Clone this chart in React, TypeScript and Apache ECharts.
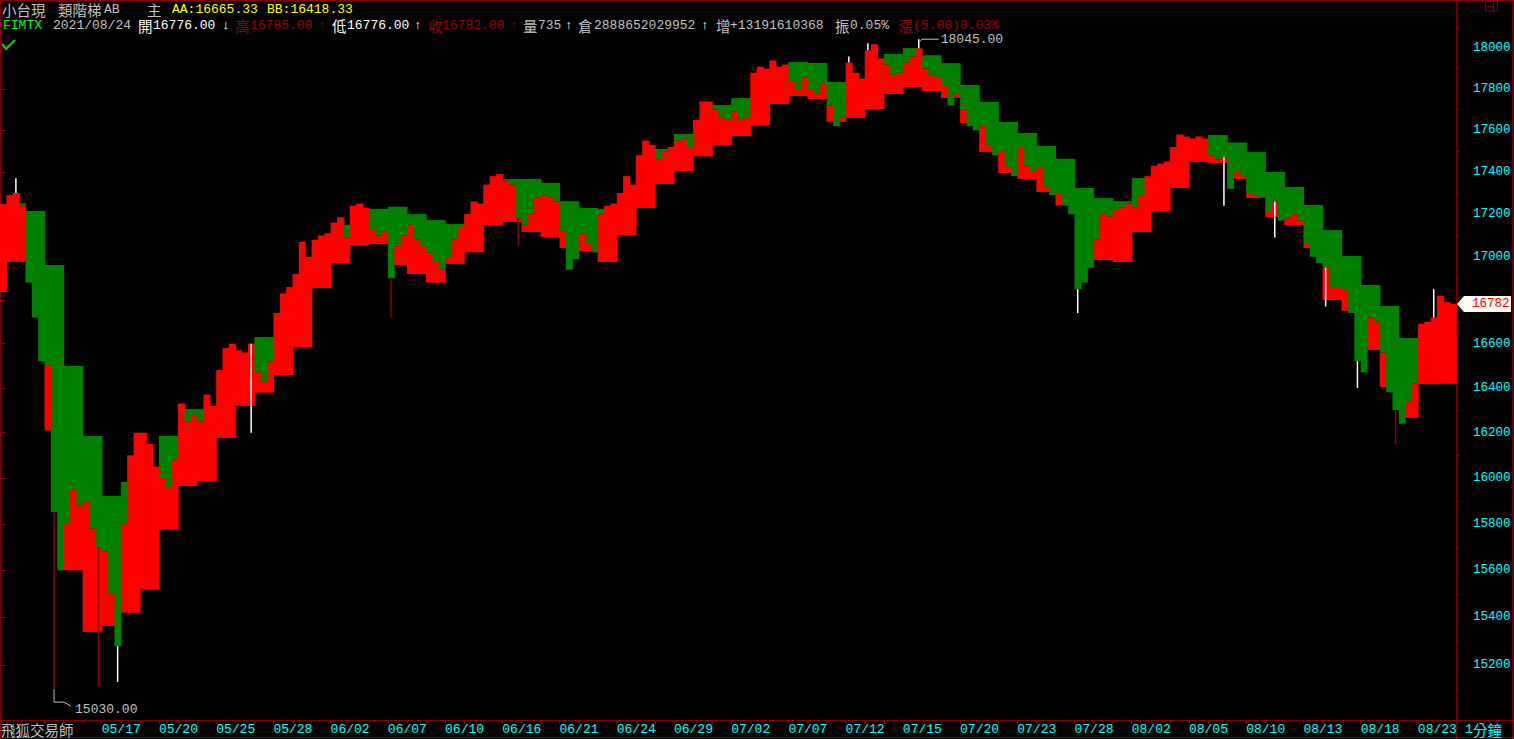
import { useEffect, useRef } from "react";
import * as echarts from "echarts";

// ---------- data ----------
const dayLabels = [
  "05/07", "05/10", "05/11", "05/12", "05/13", "05/14", "05/17", "05/18", "05/19", "05/20", "05/21",
  "05/24", "05/25", "05/26", "05/27", "05/28", "05/31", "06/01", "06/02", "06/03", "06/04",
  "06/07", "06/08", "06/09", "06/10", "06/11", "06/15", "06/16", "06/17", "06/18", "06/21",
  "06/22", "06/23", "06/24", "06/25", "06/28", "06/29", "06/30", "07/01", "07/02", "07/05",
  "07/06", "07/07", "07/08", "07/09", "07/12", "07/13", "07/14", "07/15", "07/16", "07/19",
  "07/20", "07/21", "07/22", "07/23", "07/26", "07/27", "07/28", "07/29", "07/30", "08/02",
  "08/03", "08/04", "08/05", "08/06", "08/09", "08/10", "08/11", "08/12", "08/13", "08/16",
  "08/17", "08/18", "08/19", "08/20", "08/23", "08/24",
];

// upper step level (AA) per day
const stepAA = [
  17100, 17251, 17215, 16962, 16499, 16185, 15922, 15983, 15900, 16185, 16305,
  16305, 16400, 16500, 16630, 16650, 16850, 17000, 17150, 17150, 17225,
  17235, 17200, 17172, 17153, 17150, 17300, 17367, 17367, 17348, 17261,
  17229, 17225, 17250, 17420, 17510, 17582, 17650, 17722, 17756, 17800,
  17850, 17933, 17928, 17835, 17853, 17900, 17972, 18001, 17966, 17927,
  17820, 17737, 17640, 17587, 17525, 17463, 17324, 17276, 17261, 17371,
  17380, 17500, 17540, 17577, 17541, 17495, 17400, 17329, 17243, 17125,
  17004, 16869, 16773, 16626, 16600, 16665.33,
];

// lower step level (BB) per day
const stepBB = [
  16837, 16977, 16893, 16210, 15600, 15339, 15364, 15420, 15520, 15776, 15965,
  15987, 16177, 16320, 16379, 16458, 16585, 16855, 16970, 17055, 17060,
  16962, 16920, 16880, 16967, 17022, 17148, 17163, 17116, 17093, 17041,
  17026, 16976, 17102, 17229, 17343, 17405, 17475, 17528, 17572, 17625,
  17727, 17766, 17752, 17641, 17660, 17703, 17776, 17810, 17790, 17757,
  17635, 17496, 17395, 17367, 17305, 17243, 17027, 16985, 16976, 17116,
  17215, 17324, 17448, 17443, 17367, 17276, 17186, 17149, 17041, 16800,
  16750, 16571, 16404, 16266, 16417, 16418.33,
];

// prices sampled inside each day
const closes: number[][] = [
  [17248],
  [17290, 17300, 17240], [16880, 16720, 16520], [16500, 15850, 15600], [15800, 15950, 15880], [15900, 15780, 15700],
  [15680, 15500, 15280], [15800, 16100, 16200], [16200, 16150, 16050], [16000, 15960, 16080], [16330, 16250, 16280],
  [16250, 16370, 16320], [16480, 16580, 16600], [16570, 16560, 16600], [16470, 16430, 16520], [16740, 16830, 16860],
  [16920, 17070, 17000], [17080, 17100, 17110], [17160, 17185, 17090], [17240, 17250, 17230], [17130, 17100, 17120],
  [16900, 17050, 17100], [17150, 17080, 17050], [17020, 16980, 16940], [17000, 17080, 17140], [17200, 17260, 17250],
  [17340, 17380, 17390], [17360, 17340, 17180], [17150, 17200, 17280], [17290, 17280, 17260], [17120, 16940, 16990],
  [17110, 17060, 17020], [17200, 17240, 17250], [17300, 17380, 17340], [17480, 17550, 17530], [17460, 17500, 17520],
  [17550, 17560, 17520], [17650, 17740, 17740], [17700, 17660, 17650], [17690, 17650, 17660], [17880, 17910, 17900],
  [17940, 17910, 17920], [17840, 17800, 17860], [17800, 17780, 17830], [17720, 17620, 17660], [17930, 17880, 17850],
  [17990, 18020, 17950], [17920, 17870, 17880], [17930, 17960, 18000], [17900, 17870, 17860], [17820, 17720, 17780],
  [17700, 17620, 17600], [17620, 17530, 17480], [17500, 17420, 17380], [17520, 17430, 17400], [17420, 17330, 17290],
  [17300, 17240, 17200], [16850, 16880, 16950], [17080, 17200, 17190], [17220, 17230, 17250], [17230, 17290, 17380],
  [17430, 17440, 17450], [17520, 17580, 17570], [17560, 17570, 17560], [17480, 17460, 17470], [17320, 17400, 17380],
  [17300, 17290, 17280], [17210, 17260, 17170], [17180, 17200, 17170], [17060, 17000, 16970], [16950, 16860, 16860],
  [16850, 16740, 16520], [16470, 16720, 16700], [16560, 16380, 16300], [16240, 16340, 16420], [16690, 16700, 16720],
  [16820, 16790, 16782],
];

// wicks reaching beyond the sampled price
const spikeIndex = [2, 8, 15, 18, 39, 61, 81, 133, 136, 144, 169, 192, 200, 208, 213, 219, 225];
const spikeValue = [17370, 15100, 15110, 15130, 16200, 16720, 17050, 17960, 18025, 18045, 16740, 17240, 17090, 16770, 16400, 16150, 16850];
const spikeTone = ["w", "r", "r", "w", "w", "r", "r", "w", "w", "w", "w", "w", "w", "w", "w", "r", "w"];

const xLabelDays = [
  "05/17", "05/20", "05/25", "05/28", "06/02", "06/07", "06/10", "06/16", "06/21", "06/24", "06/29", "07/02",
  "07/07", "07/12", "07/15", "07/20", "07/23", "07/28", "08/02", "08/05", "08/10", "08/13", "08/18", "08/23",
];
const yTickLabels = [15200, 15400, 15600, 15800, 16000, 16200, 16400, 16600, 16800, 17000, 17200, 17400, 17600, 17800, 18000];
const yRange = [14973, 18235];
const peakMark = { index: 144, value: 18045 };
const troughMark = { index: 8, value: 15030, wickEnd: 15100 };

const info = {
  open: 16776, high: 16785, low: 16776, volume: 735, oi: "2888652029952", oiChange: "+13191610368",
  amplitude: "0.05%", change: "(5.00)0.03%", date: "2021/08/24",
};

// ---------- styles ----------
const MONO = "'Liberation Mono', 'DejaVu Sans Mono', 'Noto Sans CJK TC', monospace";
const CJK = "'Noto Sans CJK TC', 'Noto Sans CJK SC', sans-serif";
const FRAME = "#800000";
const GRAY = "#c0c0c0";
const DRED = "#9a0000";
const CYAN = "#00ffff";

export default function App() {
  const ref = useRef<HTMLDivElement>(null);

  useEffect(() => {
    document.body.style.margin = "0";
    document.body.style.background = "#000";
    const chart = echarts.init(ref.current!, null, { renderer: "svg" });

    const pts: number[][] = [];
    const dayStart: number[] = [];
    let idx = 0;
    closes.forEach((day, k) => {
      dayStart.push(idx);
      day.forEach((p) => {
        pts.push([idx, Math.log(p), Math.log(stepAA[k]), Math.log(stepBB[k]), p, stepAA[k], stepBB[k]]);
        idx++;
      });
    });
    const total = idx;
    const lastClose = closes[closes.length - 1][closes[closes.length - 1].length - 1];

    const spikes = spikeIndex.map((i, n) => [i, Math.log(pts[i][4]), Math.log(spikeValue[n]), spikeTone[n] === "w" ? 1 : 0]);

    const minor100: number[] = [];
    const minor50: number[] = [];
    for (let v = 15000; v <= 18200; v += 50) {
      if (v % 200 === 0) continue;
      if (v % 100 === 0) minor100.push(Math.log(v));
      else minor50.push(Math.log(v));
    }

    const yMin = Math.log(yRange[0]);
    const yMax = Math.log(yRange[1]);
    const yBase = (extra: any) => ({
      type: "value",
      position: "right",
      min: yMin,
      max: yMax,
      splitLine: { show: false },
      ...extra,
    });
    const labelStyle = {
      formatter: (v: number) => String(Math.round(Math.exp(v))),
      color: CYAN,
      fontFamily: MONO,
      fontSize: 12.5,
      margin: 17,
      align: "left",
    };

    chart.setOption({
      animation: false,
      backgroundColor: "#000",
      grid: { left: 0, right: 58, top: 1, bottom: 19, containLabel: false, outerBoundsMode: "none" },
      xAxis: {
        type: "value",
        min: 0,
        max: total,
        splitLine: { show: false },
        axisLine: { show: true, lineStyle: { color: FRAME, width: 1 } },
        axisTick: {
          show: true,
          length: 4,
          customValues: dayStart.slice(1),
          lineStyle: { color: FRAME },
        },
        axisLabel: {
          customValues: xLabelDays.map((l) => dayStart[dayLabels.indexOf(l)]),
          formatter: (v: number) => dayLabels[dayStart.indexOf(Math.round(v))] ?? "",
          color: CYAN,
          fontFamily: MONO,
          fontSize: 13,
          align: "left",
          margin: 3,
        },
      },
      yAxis: [
        yBase({
          axisLine: { show: true, lineStyle: { color: FRAME } },
          axisTick: { show: true, length: 5, customValues: yTickLabels.map((v) => Math.log(v)), lineStyle: { color: FRAME } },
          axisLabel: { ...labelStyle, customValues: yTickLabels.map((v) => Math.log(v)) },
        }),
        yBase({
          axisLine: { show: false },
          axisTick: { show: true, length: 3, customValues: minor100, lineStyle: { color: FRAME } },
          axisLabel: { show: false },
        }),
        yBase({
          axisLine: { show: false },
          axisTick: { show: true, length: 1.5, customValues: minor50, lineStyle: { color: FRAME } },
          axisLabel: { show: false },
        }),
      ],
      series: [
        {
          type: "custom",
          name: "band",
          data: pts,
          encode: { x: 0, y: [1, 2, 3] },
          renderItem: (_params: any, api: any) => {
            const i = api.value(0);
            const lp = api.value(1);
            const p = api.value(4);
            const a = api.value(5);
            const b = api.value(6);
            const c0 = api.coord([i, lp]);
            const x1 = api.coord([i + 1, lp])[0];
            const yA = api.coord([i, api.value(2)])[1];
            const yB = api.coord([i, api.value(3)])[1];
            const w = x1 - c0[0] + 0.6;
            const children: any[] = [];
            if (p > b) children.push({ type: "rect", shape: { x: c0[0], y: c0[1], width: w, height: yB - c0[1] }, style: { fill: "#ff0000" } });
            if (p < a) children.push({ type: "rect", shape: { x: c0[0], y: yA, width: w, height: c0[1] - yA }, style: { fill: "#008000" } });
            return { type: "group", children };
          },
        },
        {
          type: "custom",
          name: "wick",
          data: spikes,
          encode: { x: 0, y: [1, 2] },
          renderItem: (_params: any, api: any) => {
            const i = api.value(0);
            const a = api.coord([i + 0.5, api.value(1)]);
            const b = api.coord([i + 0.5, api.value(2)]);
            return {
              type: "line",
              shape: { x1: a[0], y1: a[1], x2: b[0], y2: b[1] },
              style: { stroke: api.value(3) === 1 ? "#ffffff" : "#8b0000", lineWidth: 1.5 },
            };
          },
        },
      ],
    });

    // ---------- annotations positioned through the axes ----------
    const toPx = (x: number, v: number) => chart.convertToPixel({ gridIndex: 0 }, [x, Math.log(v)]) as number[];
    const [pkX, pkY] = toPx(peakMark.index + 0.5, peakMark.value);
    const [trX, trY] = toPx(troughMark.index + 0.5, troughMark.value);
    const trWickY = toPx(troughMark.index + 0.5, troughMark.wickEnd)[1];
    const lastY = toPx(total, lastClose)[1];
    const axisX = toPx(total, lastClose)[0];

    // the last-price tag covers any axis label lying under it
    const visibleLabels = yTickLabels.filter((v) => Math.abs(toPx(0, v)[1] - lastY) > 14).map((v) => Math.log(v));

    const txt = (text: string, x: number, y: number, fill: string, size = 13, fam = MONO) => ({
      type: "text",
      x,
      y,
      silent: true,
      style: { text, fill, fontSize: size, fontFamily: fam, verticalAlign: "middle", align: "left" },
    });
    const cj = (text: string, x: number, y: number, fill: string) => txt(text, x, y, fill, 14.5, CJK);

    const aaTxt = `AA:${stepAA[stepAA.length - 1].toFixed(2)}`;
    const bbTxt = `BB:${stepBB[stepBB.length - 1].toFixed(2)}`;

    const graphic: any[] = [
      // frame
      { type: "line", shape: { x1: 0, y1: 0.5, x2: 1514, y2: 0.5 }, style: { stroke: FRAME, lineWidth: 2 } },
      { type: "line", shape: { x1: 0.5, y1: 0, x2: 0.5, y2: 739 }, style: { stroke: FRAME, lineWidth: 1 } },
      { type: "line", shape: { x1: 1512.5, y1: 0, x2: 1512.5, y2: 739 }, style: { stroke: FRAME, lineWidth: 1 } },
      { type: "line", shape: { x1: 0, y1: 737.5, x2: 1514, y2: 737.5 }, style: { stroke: FRAME, lineWidth: 1 } },
      { type: "line", shape: { x1: 0, y1: 720.5, x2: 1514, y2: 720.5 }, style: { stroke: FRAME, lineWidth: 1 } },
      { type: "line", shape: { x1: axisX + 0.5, y1: 0, x2: axisX + 0.5, y2: 739 }, style: { stroke: FRAME, lineWidth: 1 } },
      // small window icon
      { type: "rect", shape: { x: 1485.5, y: 1.5, width: 12, height: 9.5 }, style: { fill: "none", stroke: FRAME, lineWidth: 1 } },
      { type: "line", shape: { x1: 1493.5, y1: 1.5, x2: 1493.5, y2: 11 }, style: { stroke: FRAME, lineWidth: 1 } },
      { type: "line", shape: { x1: 1485.5, y1: 6.5, x2: 1493.5, y2: 6.5 }, style: { stroke: FRAME, lineWidth: 1 } },
      // header line 1
      cj("小台現", 2, 9, GRAY),
      cj("類階梯", 58, 9, GRAY),
      txt("AB", 104, 9, GRAY),
      cj("主", 147, 9, GRAY),
      txt(aaTxt, 172, 9, "#ffff00"),
      txt(bbTxt, 267, 9, "#ffff00"),
      // header line 2
      txt("FIMTX", 3, 25, "#00ff00"),
      txt(info.date, 53, 25, GRAY),
      cj("開", 138, 25, "#ffffff"),
      txt(info.open.toFixed(2), 153, 25, "#ffffff"),
      txt("↓", 222, 25, "#ffffff"),
      cj("高", 235, 25, DRED),
      txt(info.high.toFixed(2), 250, 25, DRED),
      txt("↑", 318, 25, DRED),
      cj("低", 332, 25, "#ffffff"),
      txt(info.low.toFixed(2), 347, 25, "#ffffff"),
      txt("↑", 414, 25, "#ffffff"),
      cj("收", 428, 25, DRED),
      txt(lastClose.toFixed(2), 442, 25, DRED),
      txt("↑", 510, 25, DRED),
      cj("量", 523, 25, GRAY),
      txt(String(info.volume), 538, 25, GRAY),
      txt("↑", 565, 25, "#ffffff"),
      cj("倉", 578, 25, GRAY),
      txt(info.oi, 594, 25, GRAY),
      txt("↑", 701, 25, "#ffffff"),
      cj("增", 716, 25, GRAY),
      txt(info.oiChange, 730, 25, GRAY),
      cj("振", 835, 25, GRAY),
      txt(info.amplitude, 850, 25, GRAY),
      cj("漲", 898, 25, DRED),
      txt(info.change, 913, 25, DRED),
      // check mark
      { type: "polyline", shape: { points: [[2, 44], [6, 49], [15, 40]] }, style: { stroke: "#00d000", lineWidth: 2.2, fill: "none" } },
      // footer
      cj("飛狐交易師", 1, 729, GRAY),
      txt("1", 1465, 729, CYAN),
      cj("分鐘", 1473, 729, CYAN),
      // peak annotation
      { type: "polyline", shape: { points: [[pkX + 1, pkY + 2.5], [pkX + 3, pkY], [pkX + 20, pkY]] }, style: { stroke: GRAY, lineWidth: 1, fill: "none" } },
      txt(peakMark.value.toFixed(2), pkX + 22, pkY, GRAY),
      // trough annotation
      { type: "polyline", shape: { points: [[trX, trWickY], [trX, trY - 4], [trX + 10, trY - 4], [trX + 17, trY]] }, style: { stroke: GRAY, lineWidth: 1, fill: "none" } },
      txt(troughMark.value.toFixed(2), trX + 21, trY + 3, GRAY),
      // last price tag
      {
        type: "polygon",
        z: 50,
        shape: { points: [[axisX + 1, lastY], [axisX + 8, lastY - 8], [1511, lastY - 8], [1511, lastY + 8], [axisX + 8, lastY + 8]] },
        style: { fill: "#fffff4" },
      },
      { ...txt(String(Math.round(lastClose)), axisX + 16, lastY, "#ff0000", 12.5), z: 51 },
    ];

    chart.setOption({
      yAxis: [{ axisLabel: { ...labelStyle, customValues: visibleLabels } }, {}, {}],
      graphic,
    });

    return () => chart.dispose();
  }, []);

  return <div ref={ref} style={{ width: 1514, height: 739, background: "#000" }} />;
}
